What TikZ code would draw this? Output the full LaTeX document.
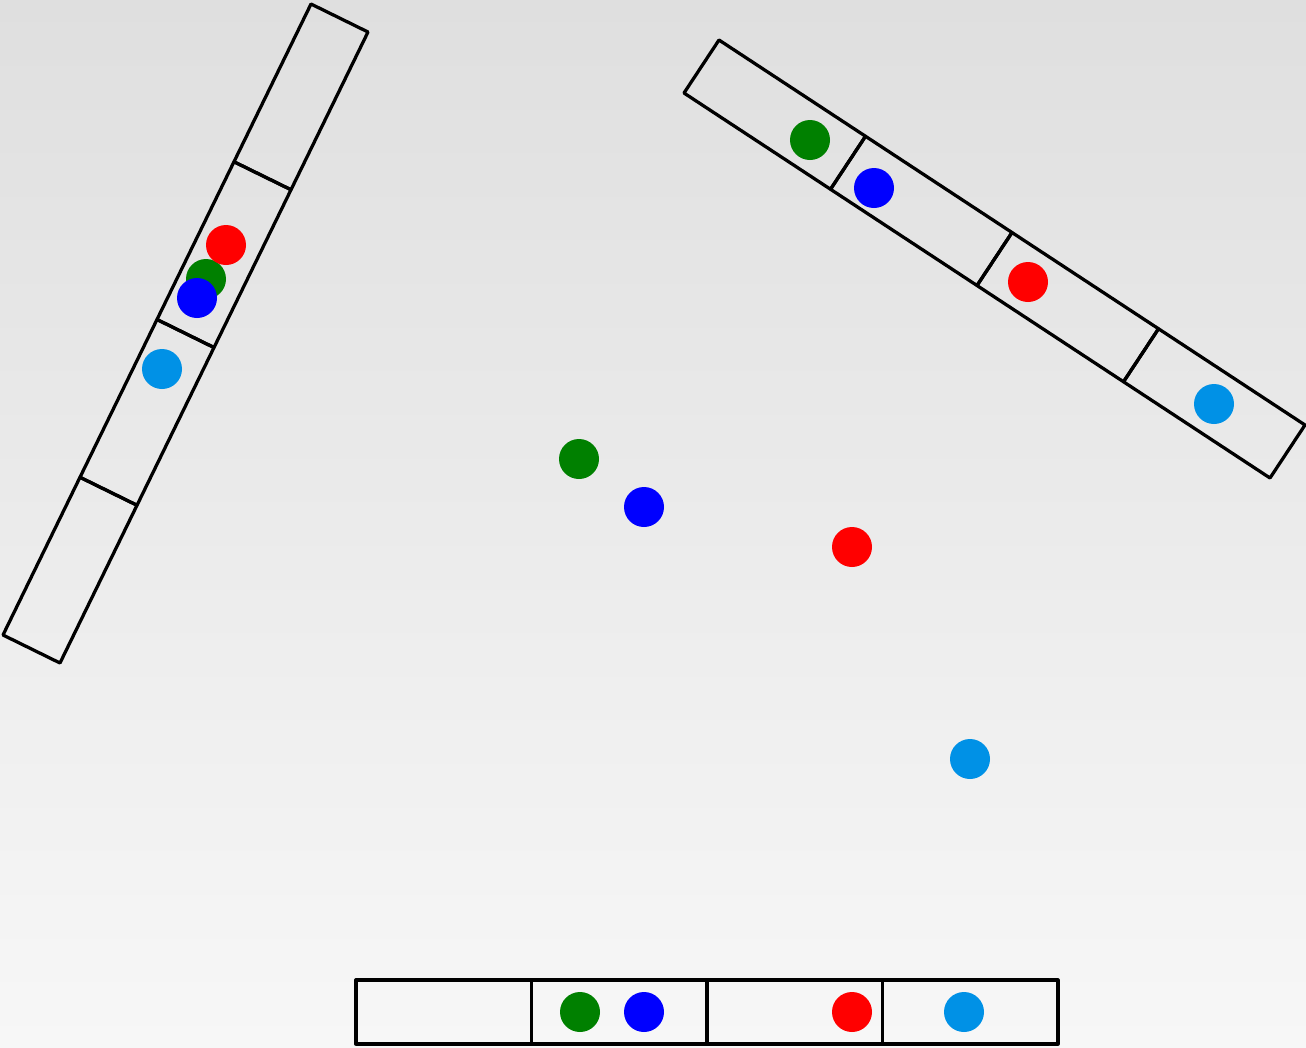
\documentclass[tikz,border=0pt]{standalone}
\usepackage{tikz}

\definecolor{dotgreen}{RGB}{0,128,0}
\definecolor{dotblue}{RGB}{0,0,255}
\definecolor{dotred}{RGB}{255,0,0}
\definecolor{dotcyan}{RGB}{0,145,230}
\definecolor{bgtop}{RGB}{223,223,223}
\definecolor{bgbot}{RGB}{247,247,247}

\begin{document}
\begin{tikzpicture}[x=0.2mm, y=-0.2mm,
    cell/.style={draw=black, line width=0.65mm, line join=round},
    dot/.style={circle, inner sep=0pt, minimum size=8mm}]
  % background
  \shade[top color=bgtop, bottom color=bgbot] (0,0) rectangle (1306,1047);
  \useasboundingbox (0,0) rectangle (1306,1047);
  % left strip: corner (368,32), cell step (-77,157.75), width (-57,-28)
  \foreach \i in {0,...,3}
    \draw[cell] ({368-77*\i},{32+157.75*\i}) -- ++(-77,157.75) -- ++(-57,-28) -- ++(77,-157.75) -- cycle;
  % upper right strip: corner (719,40), cell step (146.5,96.25), width (-35,53)
  \foreach \i in {0,...,3}
    \draw[cell] ({719+146.5*\i},{40+96.25*\i}) -- ++(146.5,96.25) -- ++(-35,53) -- ++(-146.5,-96.25) -- cycle;
  % bottom strip: corner (356,980), cell step (175.5,0), height 64
  \foreach \i in {0,...,3}
    \draw[cell] ({356+175.5*\i},980) rectangle ++(175.5,64);
  % points in the plane
  \node[dot, fill=dotgreen] (g0) at (579,459) {};
  \node[dot, fill=dotblue] (b0) at (644,507) {};
  \node[dot, fill=dotred] (r0) at (852,547) {};
  \node[dot, fill=dotcyan] (c0) at (970,759) {};
  % projections on the left strip
  \node[dot, fill=dotgreen] (g1) at (206,279) {};
  \node[dot, fill=dotblue] (b1) at (197,298) {};
  \node[dot, fill=dotred] (r1) at (226,245) {};
  \node[dot, fill=dotcyan] (c1) at (162,369) {};
  % projections on the upper right strip
  \node[dot, fill=dotgreen] (g2) at (810,140) {};
  \node[dot, fill=dotblue] (b2) at (874,188) {};
  \node[dot, fill=dotred] (r2) at (1028,282) {};
  \node[dot, fill=dotcyan] (c2) at (1214,404) {};
  % projections on the bottom strip
  \node[dot, fill=dotgreen] (g3) at (580,1012) {};
  \node[dot, fill=dotblue] (b3) at (644,1012) {};
  \node[dot, fill=dotred] (r3) at (852,1012) {};
  \node[dot, fill=dotcyan] (c3) at (964,1012) {};
\end{tikzpicture}
\end{document}
